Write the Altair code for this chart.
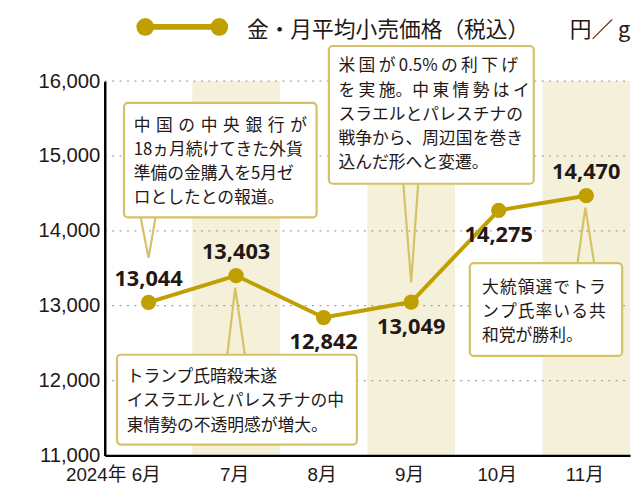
import json
import altair as alt
import pandas as pd

# ---------------- data ----------------
months = ["6月", "7月", "8月", "9月", "10月", "11月"]
year_prefix = "2024年 "
prices = [13044, 13403, 12842, 13049, 14275, 14470]
shaded_months = ["7月", "9月", "11月"]
label_side = ["above", "above", "below", "below", "below", "above"]
y_ticks = [11000, 12000, 13000, 14000, 15000, 16000]
legend_label = "金・月平均小売価格（税込）"
unit_label = "円／ g"

note_ids = ["A", "B", "C", "D"]
note_texts = [
    "中\u2004国\u2004の\u2004中\u2004央\u2004銀\u2004行\u2004が\n18ヵ月続けてきた外貨\n準備の金購入を5月ゼ\nロとしたとの報道。",
    "米\u2009国\u2009が\u20090.5%\u2009の\u2009利\u2009下\u2009げ\nを\u2009実\u2009施。中\u2009東\u2009情\u2009勢\u2009は\u2009イ\nスラエルとパレスチナの\n戦争から、周辺国を巻き\n込んだ形へと変遷。",
    "大\u200a統\u200a領\u200a選\u200aで\u200aト\u200aラ\nン\u200aプ\u200a氏\u200a率\u200aい\u200aる\u200a共\n和党が勝利。",
    "トランプ氏暗殺未遂\nイスラエルとパレスチナの中\n東情勢の不透明感が増大。",
]
# annotation layout (month-index units / yen units)
note_x0 = [-0.28, 2.06, 3.67, -0.36]
note_x1 = [1.92, 4.40, 5.41, 2.38]
note_y0 = [14180, 14630, 12330, 11145]
note_y1 = [15710, 16470, 13570, 12345]
note_tx = [-0.17, 2.17, 3.81, -0.25]
note_ty = [15511, 16303, 13348, 12148]
ptr_b0 = [-0.09, 2.91, 4.90, 0.90]
ptr_b1 = [0.08, 3.08, 5.09, 1.10]
ptr_base = [14180, 14630, 13570, 12345]
ptr_tipx = [0.0, 3.0, 4.99, 0.99]
ptr_tipy = [13640, 13310, 14310, 13240]

# ---------------- styles ----------------
GOLD = "#c0a000"
BAND = "#f5f0da"
BOX = "#d5c267"
INK = "#231815"
GRID = "#a3a3a3"
CJK = "Noto Sans CJK JP"

W, H = 532, 379

df = pd.DataFrame({
    "idx": list(range(len(months))),
    "month": months,
    "price": prices,
    "side": label_side,
    "shaded": [m in shaded_months for m in months],
})

grid_df = pd.DataFrame({"v": y_ticks[1:]})

notes_df = pd.DataFrame({
    "id": note_ids, "text": note_texts,
    "x0": note_x0, "x1": note_x1, "y0": note_y0, "y1": note_y1,
    "tx": note_tx, "ty": note_ty,
})

ptr_rows = []
for i, nid in enumerate(note_ids):
    inward = 1 if ptr_tipy[i] < ptr_base[i] else -1
    inner = ptr_base[i] + inward * 40
    ptr_rows.append({"id": nid, "o": 0, "x": ptr_b0[i], "y": ptr_base[i], "ya": inner, "y2": inner})
    ptr_rows.append({"id": nid, "o": 1, "x": ptr_tipx[i], "y": ptr_tipy[i], "ya": ptr_tipy[i], "y2": inner})
    ptr_rows.append({"id": nid, "o": 2, "x": ptr_b1[i], "y": ptr_base[i], "ya": inner, "y2": inner})
ptr_df = pd.DataFrame(ptr_rows)

one = pd.DataFrame({"k": [0]})

xscale = alt.Scale(domain=[-0.5, len(months) - 0.5], nice=False, zero=False)
yscale = alt.Scale(domain=[y_ticks[0], y_ticks[-1]], nice=False, zero=False)

x_labels = [year_prefix + months[0]] + months[1:]
x_axis = alt.Axis(
    values=list(range(len(months))),
    labelExpr=json.dumps(x_labels, ensure_ascii=False) + "[datum.value]",
    title=None, grid=False, ticks=False, tickSize=0,
    domainColor="#000000", domainWidth=2.5,
    labelFont="Liberation Sans, Noto Sans CJK JP", labelFontSize=19, labelColor=INK,
    labelPadding=10, labelFlush=False, labelOverlap=False,
    labelAlign={"condition": {"test": "datum.value == 0", "value": "right"}, "value": "center"},
    labelOffset={"condition": {"test": "datum.value == 0", "value": 12}, "value": -2},
    zindex=1,
)
y_axis = alt.Axis(
    values=y_ticks, labelExpr="format(datum.value, ',.0f')", title=None,
    grid=False, ticks=False, tickSize=0,
    domainColor="#000000", domainWidth=2.5,
    labelFont="Liberation Sans", labelFontSize=20.5, labelColor=INK, labelPadding=5,
    labelOverlap=False, labelFlush=False,
    zindex=1,
)


def X(f):
    return alt.X(f"{f}:Q", scale=xscale, axis=x_axis)


def Y(f):
    return alt.Y(f"{f}:Q", scale=yscale, axis=y_axis)


bands = alt.Chart(df).transform_filter("datum.shaded").transform_calculate(
    x0="datum.idx - 0.5", x1="datum.idx + 0.5",
    ytop=str(y_ticks[-1]), ybot=str(y_ticks[0]),
).mark_rect(color=BAND).encode(x=X("x0"), x2="x1:Q", y=Y("ytop"), y2="ybot:Q")

grid = alt.Chart(grid_df).transform_calculate(
    x0="-0.5", x1=str(len(months) - 0.5)
).mark_rule(color=GRID, strokeWidth=1.3, strokeDash=[2, 5.5]).encode(
    x=X("x0"), x2="x1:Q", y=Y("v")
)

line = alt.Chart(df).mark_line(color=GOLD, strokeWidth=4).encode(x=X("idx"), y=Y("price"))
points = alt.Chart(df).mark_circle(color=GOLD, size=240, opacity=1).encode(x=X("idx"), y=Y("price"))

lab_base = alt.Chart(df).transform_calculate(lab="format(datum.price, ',')")
lab_style = dict(font="Open Sans", fontWeight="bold", fontSize=22, color=INK, baseline="middle")
labels_above = lab_base.transform_filter("datum.side == 'above'").mark_text(dy=-24, **lab_style).encode(
    x=X("idx"), y=Y("price"), text="lab:N")
labels_below = lab_base.transform_filter("datum.side == 'below'").mark_text(dy=25, **lab_style).encode(
    x=X("idx"), y=Y("price"), text="lab:N")

boxes = alt.Chart(notes_df).mark_rect(
    fill="white", stroke=BOX, strokeWidth=2.2, cornerRadius=4
).encode(x=X("x0"), x2="x1:Q", y=Y("y1"), y2="y0:Q")

ptr_fill = alt.Chart(ptr_df).mark_area(color="white", opacity=1).encode(
    x=X("x"), y=Y("ya"), y2="y2:Q", detail="id:N", order="o:Q")
ptr_line = alt.Chart(ptr_df).mark_line(color=BOX, strokeWidth=2.2).encode(
    x=X("x"), y=Y("y"), detail="id:N", order="o:Q")

note_text = alt.Chart(notes_df).mark_text(
    align="left", baseline="top", font=CJK, fontSize=17, lineHeight=24.5,
    lineBreak="\n", color=INK
).encode(x=X("tx"), y=Y("ty"), text="text:N")

LEG_Y = -55
leg_line = alt.Chart(one).mark_rule(color=GOLD, strokeWidth=6).encode(
    x=alt.value(41), x2=alt.value(116), y=alt.value(LEG_Y))
leg_c1 = alt.Chart(one).mark_circle(color=GOLD, size=320, opacity=1).encode(
    x=alt.value(41), y=alt.value(LEG_Y))
leg_c2 = alt.Chart(one).mark_circle(color=GOLD, size=320, opacity=1).encode(
    x=alt.value(116), y=alt.value(LEG_Y))
leg_text = alt.Chart(one).mark_text(
    align="left", baseline="middle", font=CJK, fontSize=22, color=INK
).encode(x=alt.value(144), y=alt.value(LEG_Y + 3), text=alt.value(legend_label))
leg_unit = alt.Chart(one).mark_text(
    align="left", baseline="middle", font=CJK, fontSize=22, color=INK
).encode(x=alt.value(471), y=alt.value(LEG_Y + 3), text=alt.value(unit_label))

chart = alt.layer(
    bands, grid, line, points, labels_above, labels_below,
    boxes, ptr_fill, ptr_line, note_text,
    leg_line, leg_c1, leg_c2, leg_text, leg_unit,
).properties(
    width=W, height=H,
    padding={"left": 98, "top": 71, "right": 2, "bottom": 38},
    autosize=alt.AutoSizeParams(type="none"),
    background="white",
).configure_view(stroke=None)

chart.save("out.html", embed_options={"renderer": "svg", "actions": False})
